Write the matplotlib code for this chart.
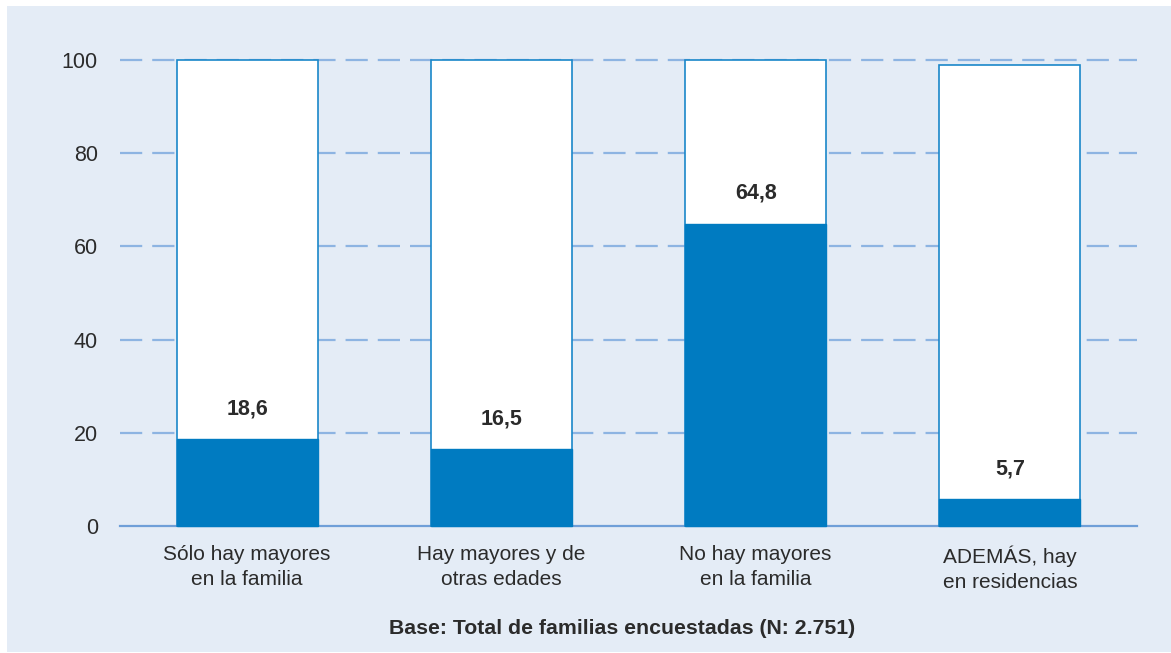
import matplotlib.pyplot as plt
from matplotlib.patches import Rectangle

categories = ['Sólo hay mayores\nen la familia', 'Hay mayores y de\notras edades',
              'No hay mayores\nen la familia', 'ADEMÁS, hay\nen residencias']
values = [18.6, 16.5, 64.8, 5.7]
totals = [100, 100, 100, 99]
value_labels = ['18,6', '16,5', '64,8', '5,7']
yticks = [0, 20, 40, 60, 80, 100]
base_text = 'Base: Total de familias encuestadas (N: 2.751)'

plt.rcParams['font.family'] = ['Liberation Sans', 'DejaVu Sans']

bg = '#e4ecf6'
blue = '#007bc1'
edge = '#1a87c9'
grid_c = '#8db4e2'
txt = '#2b2b2b'

fig = plt.figure(figsize=(11.71, 6.53), dpi=100)
fig.patch.set_facecolor('white')
fig.patches.append(Rectangle((7 / 1171, 1 / 653), 1 - 7 / 1171, 1 - 7 / 653,
                             transform=fig.transFigure, facecolor=bg,
                             edgecolor='none', zorder=-10))

ax = fig.add_axes([120 / 1171, 1 - 526 / 653, 1017 / 1171, 466 / 653])
ax.set_facecolor('none')

x = range(len(categories))
w = 0.555
ax.bar(x, totals, width=w, color='white', edgecolor=edge, linewidth=1.2,
       zorder=3, clip_on=False)
ax.bar(x, values, width=w, color=blue, edgecolor=blue, linewidth=1.0,
       zorder=4, clip_on=False)

for xi, v, lab in zip(x, values, value_labels):
    ax.annotate(lab, (xi, v), xytext=(0, 22), textcoords='offset points',
                ha='center', va='center', fontsize=15.5, fontweight='bold',
                color=txt, zorder=5)

ax.set_xlim(-0.5, 3.5)
ax.set_ylim(0, 100)
ax.set_yticks(yticks)
ax.set_yticklabels([str(t) for t in yticks])
ax.set_xticks(list(x))
ax.set_xticklabels(categories, linespacing=1.4)
ax.tick_params(axis='y', length=0, pad=16, labelsize=15.5, labelcolor=txt)
ax.tick_params(axis='x', length=0, pad=14, labelsize=15, labelcolor=txt)

for t in yticks[1:]:
    ax.axhline(t, color=grid_c, lw=1.6, ls=(0, (10, 4.5)), zorder=1,
               clip_on=False)

for s in ['top', 'right', 'left']:
    ax.spines[s].set_visible(False)
ax.spines['bottom'].set_color('#6f9fd8')
ax.spines['bottom'].set_linewidth(1.6)
ax.spines['bottom'].set_zorder(2)

fig.text(622 / 1171, 1 - 629 / 653, base_text, ha='center', va='center',
         fontsize=15.3, fontweight='bold', color=txt)

fig.savefig('out.png', dpi=100, facecolor=fig.get_facecolor())
